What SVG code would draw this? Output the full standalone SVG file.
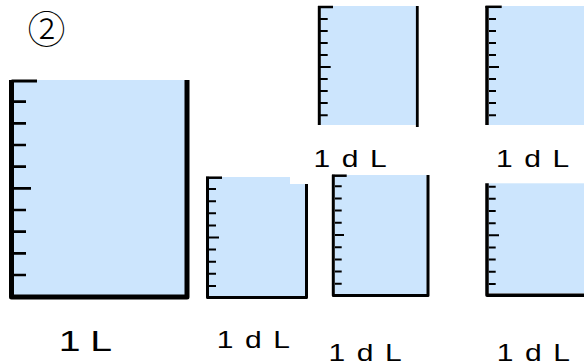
<svg xmlns="http://www.w3.org/2000/svg" width="584" height="364" viewBox="0 0 584 364">
<style>
.fill{fill:#cce5fd}
.wall{fill:none;stroke:#000;stroke-linejoin:round}
.tick{fill:none;stroke:#000}
.lbl{font-family:"Liberation Sans",Arial,sans-serif;fill:#000}
.dl{font-size:24px;letter-spacing:1.3px}
.num{font-family:"Noto Sans CJK JP","DejaVu Sans",sans-serif;fill:#000;font-weight:300}
</style>
<rect width="584" height="364" fill="#fff"/>
<g id="title">
<text class="num" x="46.5" y="43" font-size="38" text-anchor="middle">②</text>
</g>
<g id="beaker-1L">
<rect class="fill" x="14" y="80" width="171" height="215"/>
<path class="wall" stroke-width="5" d="M11.5,80 V297 H187 V80"/>
<path class="tick" stroke-width="3" d="M11.5,81 H37"/>
<path class="tick" stroke-width="2.7" d="M14,101.7H26 M14,123.3H26 M14,145H26 M14,166.7H26 M14,188.3H31 M14,210H26 M14,231.7H26 M14,253.3H26 M14,275H26"/>
<text class="lbl" transform="translate(58.7,351) scale(1.35,1)" font-size="29" letter-spacing="-0.4">1 L</text>
</g>
<g id="beaker-dL-top-1">
<rect class="fill" x="320.5" y="6" width="96" height="119"/>
<path class="wall" stroke-width="3" d="M319.3,6 V125"/>
<path class="wall" stroke-width="2.8" d="M417.3,6 V127"/>
<path class="tick" stroke-width="2.5" d="M318,7 H333"/>
<path class="tick" stroke-width="2" d="M320,19H327.7 M320,31H327.7 M320,43H327.7 M320,55H327.7 M320,67H330.7 M320,79H327.7 M320,91H327.7 M320,103H327.7 M320,115.3H327.7"/>
<text class="lbl dl" transform="translate(313.4,166.5) scale(1.25,1)">1 d L</text>
</g>
<g id="beaker-dL-top-2">
<rect class="fill" x="489" y="6" width="95" height="119"/>
<path class="wall" stroke-width="3.5" d="M487,6 V125"/>
<path class="tick" stroke-width="2.5" d="M485.5,6.8 H501.7"/>
<path class="tick" stroke-width="2" d="M489,19H496 M489,31H496 M489,43H496 M489,55H496 M489,67H499 M489,79H496 M489,91H496 M489,103H496 M489,115.3H496"/>
<text class="lbl dl" transform="translate(496,166.5) scale(1.25,1)">1 d L</text>
</g>
<g id="beaker-dL-bottom-1">
<path class="fill" d="M209,177 H290 V184 H305 V296 H209 Z"/>
<path class="wall" stroke-width="3" d="M207.5,176.7 V297.5 H306.5 V184"/>
<path class="tick" stroke-width="2.5" d="M206,177.7 H222"/>
<path class="tick" stroke-width="2" d="M209,189.1H216 M209,201.2H216 M209,213.3H216 M209,225.4H216 M209,237.5H219 M209,249.6H216 M209,261.7H216 M209,273.8H216 M209,285.9H216"/>
<text class="lbl dl" transform="translate(216.7,348) scale(1.25,1)">1 d L</text>
</g>
<g id="beaker-dL-bottom-2">
<rect class="fill" x="335" y="175" width="91.7" height="119"/>
<path class="wall" stroke-width="3" d="M333.3,174.7 V295.5 H428 V175"/>
<path class="tick" stroke-width="2.5" d="M332,175.7 H346.7"/>
<path class="tick" stroke-width="2" d="M335,186.2H341.7 M335,198.4H341.7 M335,210.6H341.7 M335,222.8H341.7 M335,235H344 M335,247.2H341.7 M335,259.4H341.7 M335,271.6H341.7 M335,283.8H341.7"/>
<text class="lbl dl" transform="translate(328.4,360.5) scale(1.25,1)">1 d L</text>
</g>
<g id="beaker-dL-bottom-3">
<rect class="fill" x="488.7" y="183.3" width="95.3" height="110"/>
<path class="wall" stroke-width="3.5" d="M487,183.3 V295.2 H584"/>
<path class="tick" stroke-width="2" d="M488.7,186.7H495.7 M488.7,198.85H495.7 M488.7,211H495.7 M488.7,223.15H495.7 M488.7,235.3H499 M488.7,247.45H495.7 M488.7,259.6H495.7 M488.7,271.75H495.7 M488.7,283.9H495.7"/>
<text class="lbl dl" transform="translate(496.7,360.5) scale(1.25,1)">1 d L</text>
</g>
</svg>
